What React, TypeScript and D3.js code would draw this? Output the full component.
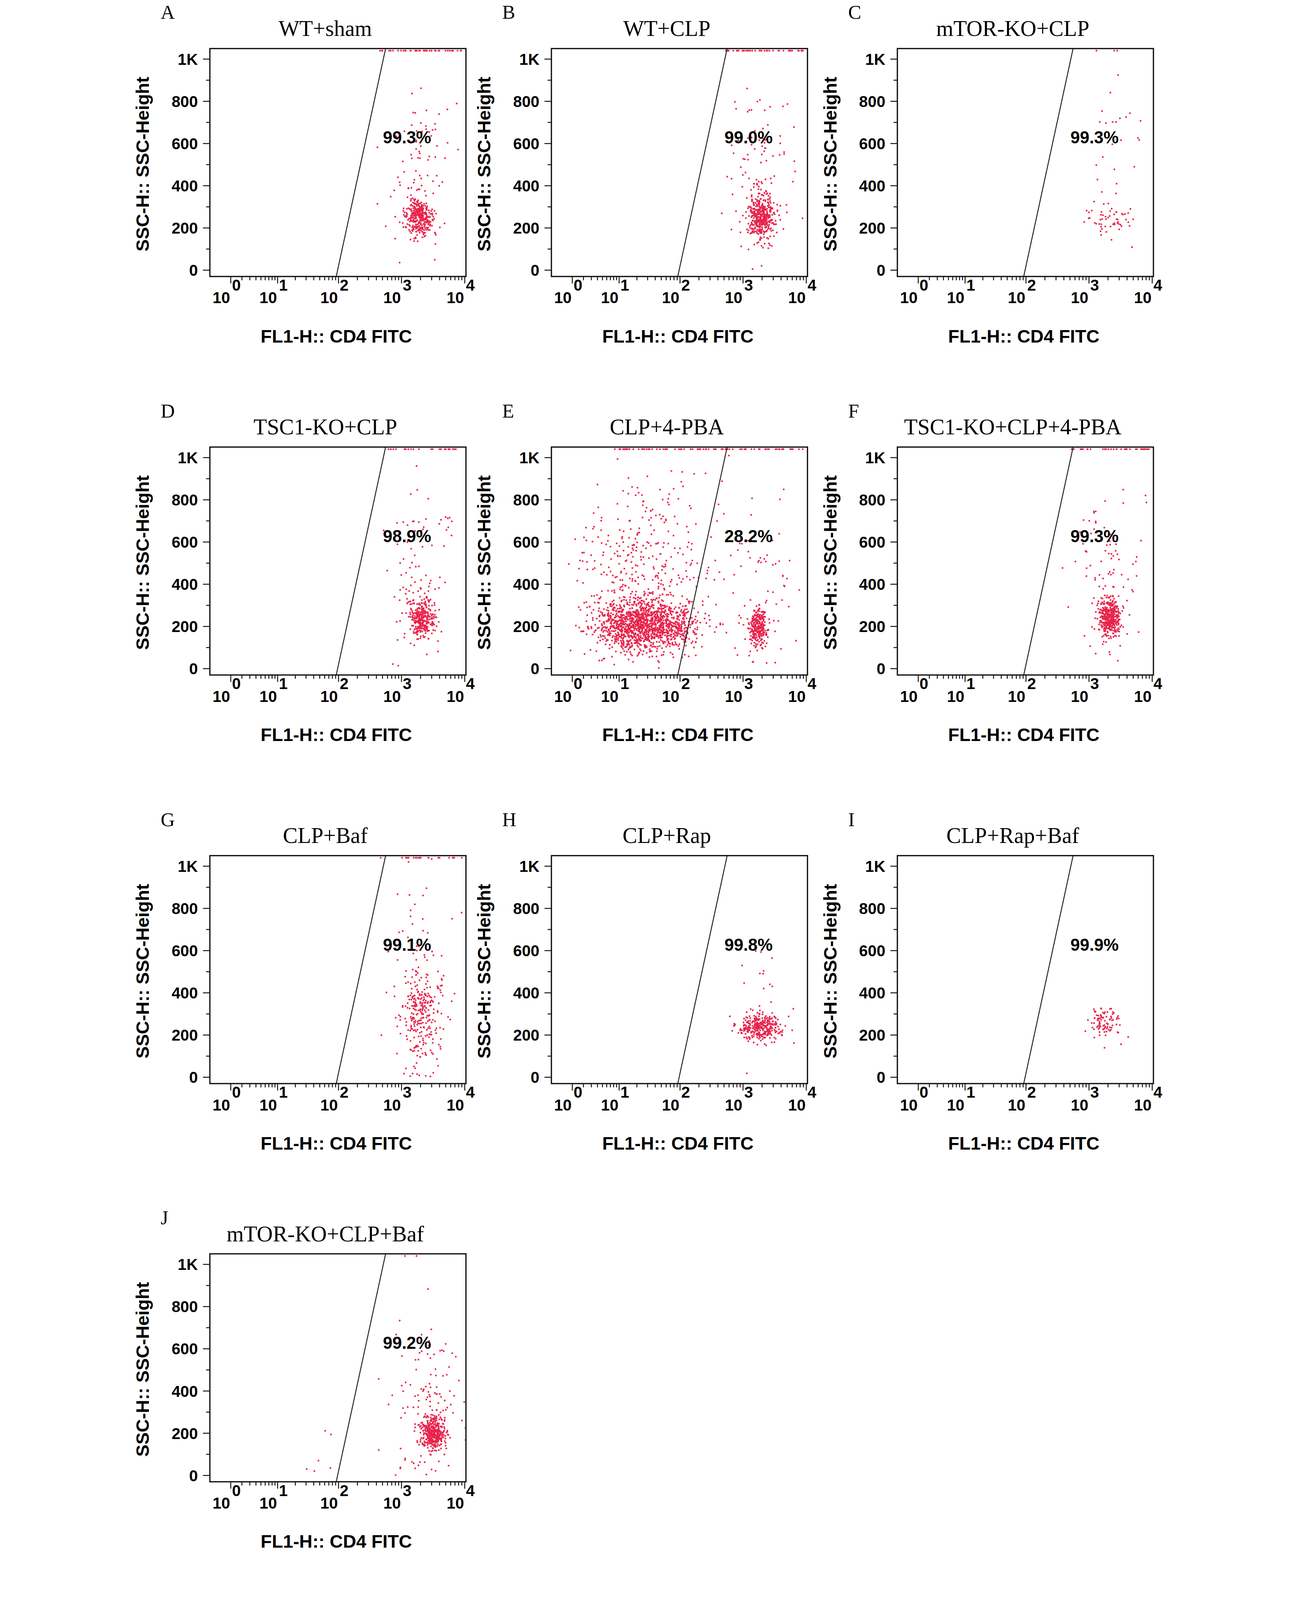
import { useMemo } from 'react';
import * as d3 from 'd3';

// panel letters, titles and gate percentages
const letters = ['A', 'B', 'C', 'D', 'E', 'F', 'G', 'H', 'I', 'J'];
const titles = ['WT+sham', 'WT+CLP', 'mTOR-KO+CLP', 'TSC1-KO+CLP', 'CLP+4-PBA', 'TSC1-KO+CLP+4-PBA', 'CLP+Baf', 'CLP+Rap', 'CLP+Rap+Baf', 'mTOR-KO+CLP+Baf'];
const percents = ['99.3%', '99.0%', '99.3%', '98.9%', '28.2%', '99.3%', '99.1%', '99.8%', '99.9%', '99.2%'];

// event clusters per panel: [x centre (FL1), log10 spread, SSC centre, SSC spread, events]
const clusters: [number, number, number, number, number][][] = [
  [[1950, 0.1, 250, 45, 330], [1900, 0.25, 470, 210, 90]],
  [[1950, 0.1, 250, 50, 420], [1900, 0.25, 480, 220, 100]],
  [[2300, 0.2, 240, 40, 55], [2300, 0.2, 520, 220, 25]],
  [[2100, 0.1, 240, 50, 320], [1900, 0.25, 460, 220, 90]],
  [[26, 0.42, 210, 60, 1350], [24, 0.55, 460, 240, 380], [1750, 0.07, 195, 45, 260], [1600, 0.3, 380, 200, 70]],
  [[2150, 0.09, 240, 45, 380], [2000, 0.25, 440, 200, 90]],
  [[2000, 0.16, 280, 110, 260], [1900, 0.25, 560, 220, 60]],
  [[1900, 0.17, 235, 30, 320], [1900, 0.2, 420, 180, 20]],
  [[1800, 0.13, 250, 40, 90]],
  [[3200, 0.09, 200, 40, 380], [2500, 0.28, 360, 190, 120], [40, 0.3, 200, 120, 6]],
];
// saturated events on the top edge: [min x, max x, events]
const edgeEvents: [number, number, number][] = [
  [450, 9000, 40], [500, 9000, 40], [2000, 3000, 2], [500, 9000, 25], [10, 9000, 90],
  [500, 9000, 40], [1000, 9000, 20], [0, 0, 0], [0, 0, 0], [1000, 2000, 2],
];
// gate polygon edge: [FL1 at SSC 0, FL1 at top]
const gateX = [92, 560];
const yTicks = [0, 200, 400, 600, 800, 1000];
const yTickLabels = ['0', '200', '400', '600', '800', '1K'];
const xDecades = [1, 10, 100, 1000, 10000];

const rowY = [0, 1264, 2560, 3823];
const colX = [0, 1083, 2180];

const BOX = { l: 263, t: 154, w: 812, h: 723 };
const SANS = 'Liberation Sans, Arial, sans-serif';
const SERIF = 'Liberation Serif, Times New Roman, serif';

function Panel({ i }: { i: number }) {
  const x = d3.scaleSymlog().constant(1).domain([-0.07, 10450]).range([BOX.l, BOX.l + BOX.w]);
  const y = d3.scaleLinear().domain([-30, 1050]).range([BOX.t + BOX.h, BOX.t]);
  const pts = useMemo(() => {
    const rnd = d3.randomLcg(0.137 + i * 0.071);
    const norm = d3.randomNormal.source(rnd);
    const out: [number, number][] = [];
    clusters[i].forEach(([cx, sx, cy, sy, n]) => {
      const gx = norm(Math.log10(cx), sx);
      const gy = norm(cy, sy);
      for (let k = 0; k < n; k++) {
        const v = Math.pow(10, gx());
        const s = Math.abs(gy());
        out.push([Math.min(v, 10300), Math.min(s, 1040)]);
      }
    });
    const [a, b, n] = edgeEvents[i];
    const ux = d3.randomUniform.source(rnd)(Math.log10(Math.max(a, 1)), Math.log10(Math.max(b, 1)));
    for (let k = 0; k < n; k++) out.push([Math.pow(10, ux()), 1040]);
    return out;
  }, [i]);
  const minor: number[] = [];
  xDecades.slice(0, 4).forEach(d => { for (let m = 2; m < 10; m++) minor.push(d * m); });
  const yMinor = d3.range(100, 1100, 100).filter(v => v % 200 !== 0);
  const cx = BOX.l + BOX.w / 2;
  return (
    <g transform={`translate(${colX[i % 3]},${rowY[Math.floor(i / 3)]})`}>
      <text x={107} y={60} fontFamily={SERIF} fontSize={62}>{letters[i]}</text>
      <text x={cx - 40} y={114} textAnchor="middle" fontFamily={SERIF} fontSize={70}>{titles[i]}</text>
      <g>
        {pts.map(([px, py], k) => (
          <rect key={k} x={x(px) - 2.5} y={y(py) - 2.5} width={5} height={5} fill="#e8234b" />
        ))}
      </g>
      <line x1={x(gateX[0])} y1={BOX.t + BOX.h} x2={x(gateX[1])} y2={BOX.t} stroke="#222" strokeWidth={3} />
      <rect x={BOX.l} y={BOX.t} width={BOX.w} height={BOX.h} fill="none" stroke="#111" strokeWidth={4} />
      <text x={x(gateX[1]) + 68} y={y(600)} textAnchor="middle" fontFamily={SANS} fontWeight="bold" fontSize={54}>{percents[i]}</text>
      {yTicks.map((v, k) => (
        <g key={v}>
          <line x1={BOX.l - 22} x2={BOX.l} y1={y(v)} y2={y(v)} stroke="#111" strokeWidth={3} />
          <text x={225} y={y(v) + 18} textAnchor="end" fontFamily={SANS} fontWeight="bold" fontSize={50}>{yTickLabels[k]}</text>
        </g>
      ))}
      {yMinor.map(v => <line key={v} x1={BOX.l - 12} x2={BOX.l} y1={y(v)} y2={y(v)} stroke="#111" strokeWidth={3} />)}
      {minor.map(v => <line key={v} x1={x(v)} x2={x(v)} y1={BOX.t + BOX.h} y2={BOX.t + BOX.h + 12} stroke="#111" strokeWidth={3} />)}
      {xDecades.map((d, k) => (
        <g key={d}>
          <line x1={x(d)} x2={x(d)} y1={BOX.t + BOX.h} y2={BOX.t + BOX.h + 22} stroke="#111" strokeWidth={3} />
          <text x={x(d) - 2} y={962} textAnchor="end" fontFamily={SANS} fontWeight="bold" fontSize={50}>10</text>
          <text x={x(d) + 4} y={922} fontFamily={SANS} fontWeight="bold" fontSize={50}>{k}</text>
        </g>
      ))}
      <text x={cx - 5} y={1086} textAnchor="middle" fontFamily={SANS} fontWeight="bold" fontSize={58}>FL1-H:: CD4 FITC</text>
      <text transform={`translate(70,${BOX.t + BOX.h / 2 + 5}) rotate(-90)`} textAnchor="middle" fontFamily={SANS} fontWeight="bold" fontSize={58}>SSC-H:: SSC-Height</text>
    </g>
  );
}

export default function App() {
  return (
    <svg width="100vw" height="100vh" viewBox="0 0 3368 5075" preserveAspectRatio="xMidYMin meet"
      style={{ position: 'absolute', left: 0, top: 0, background: '#fff', display: 'block' }}>
      <rect width={3368} height={5075} fill="#fff" />
      {letters.map((_, i) => <Panel key={i} i={i} />)}
    </svg>
  );
}
